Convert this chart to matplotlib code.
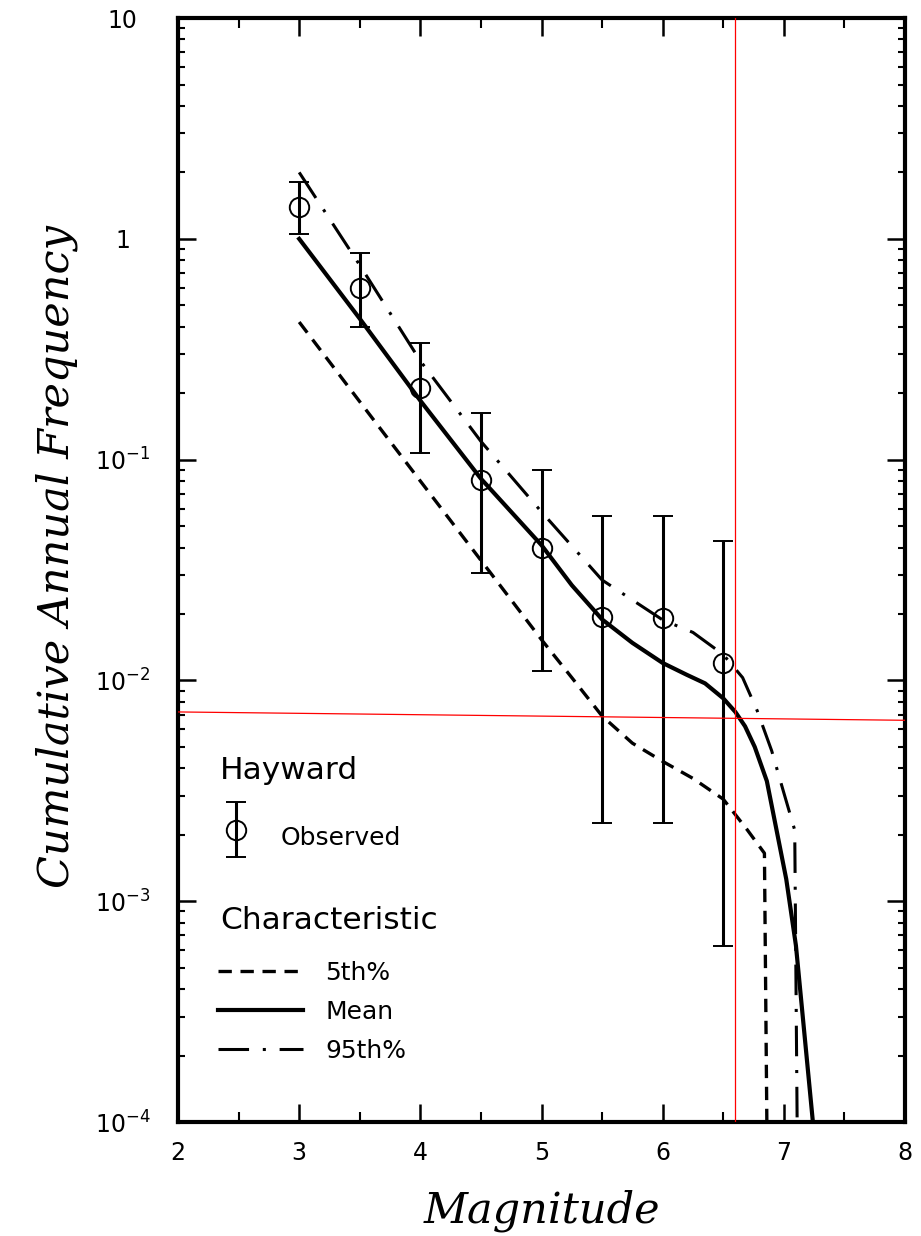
import matplotlib
matplotlib.use("Agg")
import matplotlib.pyplot as plt
from matplotlib.ticker import MultipleLocator, LogLocator, FixedLocator, NullFormatter
from matplotlib.legend_handler import HandlerErrorbar

plt.rcParams['font.family'] = ['DejaVu Sans']
plt.rcParams['mathtext.default'] = 'regular'

# observed (Hayward), with error bar limits
obs_mag = [3.0, 3.5, 4.0, 4.5, 5.0, 5.5, 6.0, 6.5]
obs_freq = [1.40, 0.60, 0.21, 0.081, 0.040, 0.0193, 0.0192, 0.0120]
obs_hi = [1.81, 0.865, 0.338, 0.163, 0.090, 0.0558, 0.0558, 0.0426]
obs_lo = [1.05, 0.40, 0.1076, 0.0308, 0.011, 0.00225, 0.00225, 0.00063]

# characteristic model curves
mean_mag = [3.0, 3.5, 4.0, 4.5, 5.0, 5.25, 5.5, 5.75, 6.0, 6.2, 6.35, 6.5,
            6.6, 6.68, 6.76, 6.86, 6.94, 7.02, 7.1, 7.24]
mean_freq = [1.0, 0.435, 0.185, 0.082, 0.041, 0.027, 0.0189, 0.0148, 0.0120,
             0.0106, 0.0097, 0.0083, 0.0072, 0.0062, 0.0050, 0.0035, 0.0021,
             0.00126, 0.00063, 0.0001]

p5_mag = [3.0, 3.5, 4.0, 4.5, 5.0, 5.25, 5.5, 5.75, 6.0, 6.25, 6.5, 6.7,
          6.84, 6.86]
p5_freq = [0.42, 0.183, 0.080, 0.035, 0.0153, 0.0103, 0.0069, 0.0052, 0.0043,
           0.0036, 0.0029, 0.0021, 0.00165, 0.0001]

p95_mag = [3.0, 3.5, 4.0, 4.5, 5.0, 5.5, 6.0, 6.25, 6.5, 6.66, 6.78, 6.9,
           7.0, 7.09, 7.11]
p95_freq = [2.0, 0.76, 0.28, 0.121, 0.058, 0.0285, 0.0188, 0.0165, 0.0131,
            0.0103, 0.0073, 0.0048, 0.0031, 0.0021, 0.0001]

# red marker lines drawn over the figure
red_vline = 6.6
red_hline_mag = [2.0, 8.0]
red_hline_freq = [0.0072, 0.0066]

ytick_vals = [1e-4, 1e-3, 1e-2, 1e-1, 1, 10]
ytick_labels = [r'$10^{-4}$', r'$10^{-3}$', r'$10^{-2}$', r'$10^{-1}$', '1', '10']


def main():
    fig = plt.figure(figsize=(9.21, 12.36), dpi=100)
    ax = fig.add_axes([0.1933, 0.0922, 0.7893, 0.8932])

    yerr = [[f - lo for f, lo in zip(obs_freq, obs_lo)],
            [hi - f for f, hi in zip(obs_freq, obs_hi)]]
    h_obs = ax.errorbar(obs_mag, obs_freq, yerr=yerr, fmt='o', mfc='none',
                        mec='k', ms=14, mew=1.4, ecolor='k', elinewidth=2.2,
                        capsize=7, capthick=2.2, zorder=3)

    l5, = ax.plot(p5_mag, p5_freq, color='k', lw=2.4, dashes=(4, 2.6))
    lmean, = ax.plot(mean_mag, mean_freq, color='k', lw=3.0)
    l95, = ax.plot(p95_mag, p95_freq, color='k', lw=2.2, dashes=(10, 4.5, 1, 4.5))

    ax.axvline(red_vline, color='red', lw=0.9, zorder=5)
    ax.plot(red_hline_mag, red_hline_freq, color='red', lw=0.9, zorder=5)

    ax.set_xlim(2, 8)
    ax.set_yscale('log')
    ax.set_ylim(1e-4, 10)

    ax.xaxis.set_major_locator(MultipleLocator(1))
    ax.xaxis.set_minor_locator(MultipleLocator(0.5))
    ax.yaxis.set_major_locator(FixedLocator(ytick_vals))
    ax.set_yticklabels(ytick_labels)
    ax.yaxis.set_minor_locator(LogLocator(base=10, subs=range(2, 10)))
    ax.yaxis.set_minor_formatter(NullFormatter())

    for s in ax.spines.values():
        s.set_linewidth(3)
    ax.tick_params(which='both', direction='in', top=True, right=True)
    ax.tick_params(which='major', length=13, width=1.8)
    ax.tick_params(which='minor', length=5, width=1.5)
    ax.tick_params(axis='x', which='minor', length=7)
    ax.tick_params(axis='x', labelsize=17, pad=14)
    ax.tick_params(axis='y', labelsize=17, pad=40)
    for lab in ax.get_yticklabels():
        lab.set_horizontalalignment('center')

    lab_font = dict(family='DejaVu Serif', style='italic', size=31)
    ax.set_xlabel('Magnitude', labelpad=17, **lab_font)
    ax.set_ylabel('Cumulative Annual Frequency', **lab_font)
    ax.yaxis.set_label_coords(-0.137, 0.512)

    # legend block: titles as text, entries as legends
    ax.text(0.058, 0.3188, 'Hayward', transform=ax.transAxes, fontsize=22.5,
            va='center', ha='left')
    leg1 = ax.legend(handles=[h_obs], labels=['Observed'], loc='center left',
                     bbox_to_anchor=(0.055, 0.258), borderpad=0,
                     borderaxespad=0, frameon=False, fontsize=18,
                     handlelength=1.4, handleheight=2.4, handletextpad=1.1,
                     handler_map={h_obs: HandlerErrorbar(yerr_size=1.1)})
    ax.add_artist(leg1)
    ax.text(0.058, 0.183, 'Characteristic', transform=ax.transAxes,
            fontsize=22.5, va='center', ha='left')
    ax.legend(handles=[l5, lmean, l95], labels=['5th%', 'Mean', '95th%'],
              loc='center left', bbox_to_anchor=(0.055, 0.0996),
              borderpad=0, borderaxespad=0, frameon=False, fontsize=18,
              handlelength=3.4, handletextpad=0.9, labelspacing=0.6)

    fig.savefig('out.png', dpi=100)
    plt.close(fig)


if __name__ == '__main__':
    main()
